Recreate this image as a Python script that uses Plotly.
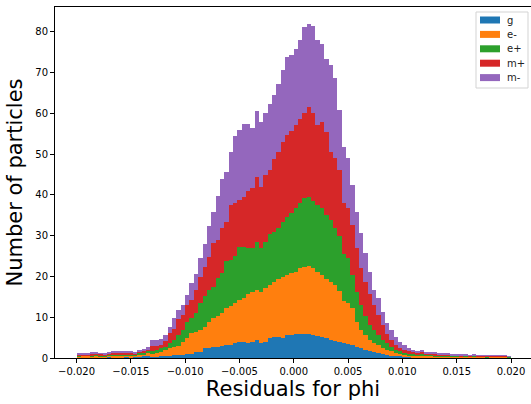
import numpy as np
import plotly.graph_objects as go

# Histogram: 100 bins from -0.02 to 0.02
bin_lo, bin_hi, n_bins = -0.02, 0.02, 100

series_names = ["g", "e-", "e+", "m+", "m-"]
colors = ["#1f77b4", "#ff7f0e", "#2ca02c", "#d62728", "#9467bd"]

g_vals = [0.1,0.1,0.2,0.1,0.2,0.1,0.2,0.2,0.1,0.2,0.2,0.3,0.2,0.3,0.3,0.4,0.5,
          0.3,0.3,0.4,0.4,0.5,0.7,0.7,0.7,1.0,1.0,1.5,1.5,2.4,2.4,2.8,2.8,3.0,3.2,3.2,3.6,
          4.0,4.0,3.8,4.0,4.4,3.8,4.0,4.8,5.2,5.2,5.0,5.6,5.6,5.8,6.0,6.0,5.8,5.6,5.4,5.2,
          4.8,4.4,4.2,4.0,3.8,3.4,3.2,2.8,2.4,2.0,1.8,1.5,1.2,1.0,0.8,0.6,0.5,0.4,0.3,0.3,
          0.2,0.2,
          0.2,0.1,0.2,0.1,0.1,0.1,0.1,0.1,0.1,0.1,0.1,0.1,0.1,0.1,0.1,0.0,0.1,0.1,0.1,0.1,0.0]

em_vals = [0.3,0.4,0.3,0.3,0.4,0.3,0.2,0.5,0.4,0.3,0.4,0.3,0.4,0.3,0.5,0.5,0.7,
           0.7,0.9,1.1,1.5,1.9,2.1,2.3,3.3,3.8,5.1,5.0,5.4,5.3,6.5,6.9,7.4,8.0,9.0,9.5,9.8,
           10.2,10.6,11.8,12.3,12.3,12.5,13.1,13.1,13.5,14.3,14.9,14.7,15.2,15.4,16.0,16.4,
           16.8,16.4,15.8,15.1,14.7,14.3,13.6,12.5,10.1,10.0,9.0,6.1,4.5,3.6,2.6,2.1,2.0,1.4,
           1.2,1.0,0.8,0.6,0.5,0.4,0.4,0.3,
           0.4,0.4,0.3,0.3,0.3,0.3,0.2,0.2,0.2,0.2,0.2,0.2,0.2,0.2,0.2,0.2,0.2,0.2,0.2,0.2,0.2]

ep_vals = [0.2,0.2,0.2,0.3,0.2,0.3,0.2,0.2,0.3,0.4,0.3,0.3,0.3,0.2,0.4,0.4,0.5,
           0.8,0.8,0.9,0.9,1.2,1.6,2.6,2.9,4.1,3.6,4.5,6.5,7.4,7.8,7.8,9.4,9.8,11.5,11.4,11.5,
           13.1,12.7,11.4,10.6,11.8,10.6,11.4,12.6,12.3,12.3,13.5,14.3,14.7,15.5,15.9,16.8,
           16.8,16.4,16.3,16.4,15.6,15.2,14.0,13.5,11.6,11.1,8.1,7.4,6.1,4.6,3.7,3.3,2.4,2.0,
           1.6,1.2,0.7,0.6,0.5,0.4,0.4,0.3,
           0.4,0.3,0.3,0.3,0.2,0.2,0.2,0.2,0.2,0.1,0.2,0.1,0.2,0.1,0.1,0.1,0.1,0.1,0.1,0.1,0.1]

mp_vals = [0.2,0.2,0.2,0.3,0.4,0.3,0.3,0.2,0.5,0.4,0.4,0.4,0.4,0.4,0.5,0.6,0.5,
           1.2,1.0,0.9,1.3,2.6,2.6,3.9,3.6,4.1,4.5,5.7,6.5,7.3,8.1,10.6,9.3,11.0,9.7,13.4,13.0,
           11.4,12.2,14.0,14.7,15.9,15.1,16.3,15.5,17.9,18.7,19.5,20.0,20.3,20.4,20.8,20.8,
           22.1,21.6,19.6,21.2,20.4,16.6,17.2,16.0,12.4,12.2,12.3,10.6,9.0,8.5,7.7,6.1,4.9,3.7,
           2.4,1.6,1.2,0.8,0.7,0.5,0.4,0.4,
           0.5,0.3,0.4,0.3,0.3,0.2,0.3,0.2,0.2,0.2,0.2,0.2,0.2,0.2,0.1,0.2,0.1,0.1,0.2,0.2,0.1]

mm_vals = [0.2,0.3,0.2,0.3,0.2,0.2,0.2,0.3,0.3,0.2,0.3,0.2,0.3,0.2,0.3,0.3,0.4,
           1.3,1.5,1.3,1.5,1.5,2.7,2.2,2.5,2.5,4.3,4.0,4.7,5.5,7.5,7.8,10.9,12.2,12.3,13.1,16.5,
           17.3,18.0,16.5,14.7,16.3,15.9,15.4,16.4,15.6,16.8,17.7,19.2,18.5,18.8,19.2,21.2,
           20.5,21.4,20.8,19.2,17.9,21.3,19.7,14.8,13.9,12.3,9.8,9.0,8.6,7.0,5.4,3.7,4.2,3.3,
           2.5,2.5,2.0,1.6,1.2,0.9,0.6,0.6,
           0.5,0.4,0.3,0.3,0.2,0.2,0.2,0.2,0.1,0.2,0.1,0.1,0.1,0.1,0.1,0.1,0.1,0.1,0.1,0.1,0.05]

x_ticks = [-0.020, -0.015, -0.010, -0.005, 0.000, 0.005, 0.010, 0.015, 0.020]
y_ticks = [0, 10, 20, 30, 40, 50, 60, 70, 80]

edges = np.linspace(bin_lo, bin_hi, n_bins + 1)
centers = (edges[:-1] + edges[1:]) / 2
width = edges[1] - edges[0]

W, H = 531, 404
ML, MR, MT, MB = 55, 0, 7, 46
PW, PH = W - ML - MR, H - MT - MB

fig = go.Figure()
for name, color, vals in zip(series_names, colors,
                             [g_vals, em_vals, ep_vals, mp_vals, mm_vals]):
    fig.add_trace(go.Bar(x=centers, y=vals, width=width, name=name, showlegend=False,
                         marker=dict(color=color, line=dict(width=0))))

font = "DejaVu Sans"

# matplotlib-style legend box (pixel layout converted to paper coords)
def px(x):
    return (x - ML) / PW

def py(y):
    return (H - MB - y) / PH

shapes = [dict(type="rect", xref="paper", yref="paper",
               x0=px(476), x1=px(528), y0=py(88), y1=py(12),
               line=dict(color="#d3d3d3", width=1),
               fillcolor="rgba(255,255,255,0.8)", layer="above")]
annotations = []
for i, (name, color) in enumerate(zip(series_names, colors)):
    cy = 20 + 14.4 * i
    shapes.append(dict(type="rect", xref="paper", yref="paper",
                       x0=px(480), x1=px(500), y0=py(cy + 3.5), y1=py(cy - 3.5),
                       line=dict(width=0), fillcolor=color, layer="above"))
    annotations.append(dict(xref="paper", yref="paper", x=px(505), y=py(cy),
                            xanchor="left", yanchor="middle", showarrow=False,
                            text=name, font=dict(family=font, size=10, color="#222")))

fig.update_layout(
    width=W, height=H,
    barmode="stack", bargap=0,
    margin=dict(l=ML, r=MR, t=MT, b=MB),
    plot_bgcolor="white", paper_bgcolor="white",
    font=dict(family=font, size=10, color="black"),
    showlegend=False,
    shapes=shapes, annotations=annotations,
    xaxis=dict(range=[-0.02198, 0.02184], tickvals=x_ticks, tickformat=".3f",
               showgrid=False, zeroline=False, showline=True, linecolor="black",
               linewidth=1, mirror=True, ticks="outside", ticklen=4, tickwidth=1,
               tickcolor="black",
               title=dict(text="Residuals for phi", font=dict(family=font, size=21),
                          standoff=2)),
    yaxis=dict(range=[0, 86.1], tickvals=y_ticks, showgrid=False, zeroline=False,
               showline=True, linecolor="black", linewidth=1, mirror=False,
               ticks="outside", ticklen=4, tickwidth=1, tickcolor="black",
               title=dict(text="Number of particles", font=dict(family=font, size=21),
                          standoff=6)),
)

fig.write_html("out.html")
